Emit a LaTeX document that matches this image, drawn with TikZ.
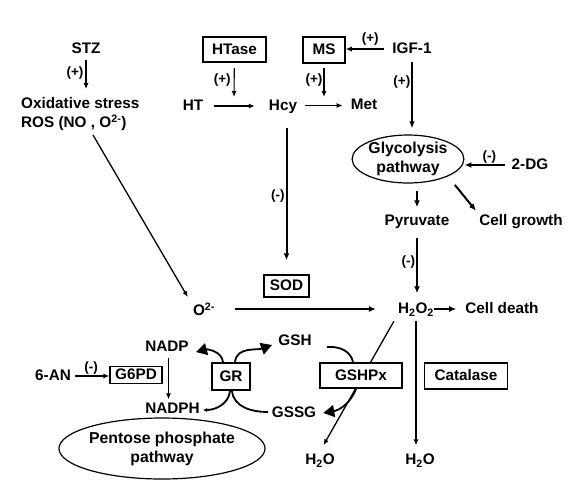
\documentclass[tikz,border=0pt]{standalone}
\usepackage{fontspec}
\setmainfont{Liberation Sans}
\usetikzlibrary{arrows.meta,calc,shapes.geometric}
\tikzset{
  txt/.style={font=\bfseries\fontsize{15.3}{19}\selectfont, inner sep=2pt, text height=11pt, text depth=2pt},
  mtxt/.style={font=\bfseries\fontsize{15.3}{19}\selectfont, inner sep=2pt, align=left},
  bx/.style={font=\bfseries\fontsize{15.3}{19}\selectfont, draw, line width=1.5pt, inner sep=0pt, text height=11pt, text depth=2pt, fill=white},
  ell/.style={ellipse, draw, line width=1.2pt, inner sep=0pt, align=center, font=\bfseries\fontsize{15.8}{19}\selectfont},
  lab/.style={font=\bfseries\fontsize{13.5}{14}\selectfont, inner sep=1pt},
  arr/.style={-{Latex[length=6pt,width=5pt]}, line width=1.1pt},
  marr/.style={-{Latex[length=7pt,width=5.5pt]}, line width=1.5pt},
  tarr/.style={-{Latex[length=7pt,width=6pt]}, line width=2pt},
  big/.style={-{Triangle[length=11pt,width=12pt]}, line width=1.8pt},
  plain/.style={line width=1.8pt},
}
\begin{document}
\begin{tikzpicture}[x=1pt,y=1pt]
\useasboundingbox (0,0) rectangle (584,-491);
% nodes
\node[txt] (stz) at (86,-49) {STZ};
\node[mtxt, anchor=north west] (ox) at (19,-95) {Oxidative stress\\ROS (NO , O\textsuperscript{2-})};
\node[bx, minimum width=63pt, minimum height=25pt] (hta) at (234.5,-49.5) {HTase};
\node[txt] (ht) at (193,-106) {HT};
\node[txt] (hcy) at (283,-105.5) {Hcy};
\node[bx, minimum width=42pt, minimum height=26pt] (ms) at (324,-50) {MS};
\node[txt] (igf) at (412,-49) {IGF-1};
\node[txt] (met) at (364,-104.5) {Met};
\node[ell, minimum width=110pt, minimum height=48pt] (gly) at (408,-159) {Glycolysis\\pathway};
\node[txt] (dg) at (530,-165) {2-DG};
\node[txt] (pyr) at (417,-221) {Pyruvate};
\node[txt] (cg) at (521,-221) {Cell growth};
\node[txt] (h2o2) at (416,-309) {H\textsubscript{2}O\textsubscript{2}};
\node[txt] (cd) at (502,-309) {Cell death};
\node[txt] (o2) at (204,-311) {O\textsuperscript{2-}};
\node[bx, minimum width=45pt, minimum height=22pt] (sod) at (286.5,-286) {SOD};
\node[txt] (nadp) at (167,-347) {NADP};
\node[txt] (nadph) at (172.5,-409) {NADPH};
\node[bx, minimum width=52pt, minimum height=17pt] (g6pd) at (136,-375) {G6PD};
\node[txt] (an) at (53,-376) {6-AN};
\node[txt] (gsh) at (295,-341) {GSH};
\node[txt] (gssg) at (294,-413) {GSSG};
\node[txt] (h2ol) at (320,-460) {H\textsubscript{2}O};
\node[txt] (h2or) at (420,-460) {H\textsubscript{2}O};
\node[ell, minimum width=175pt, minimum height=61pt] (ppp) at (162,-448.5) {Pentose phosphate\\pathway};
% free ends
\coordinate (j1) at (234,-97);
\coordinate (j2) at (324,-97);
\coordinate (na) at ($(nadp.south)+(1.5,0)$);
\coordinate (rosx) at ($(ox.north west)+(74,-40)$);
% connectors top
\draw[arr, shorten <=2pt, shorten >=6pt] (stz) -- node[lab, left, pos=.42, xshift=-1pt]{(+)} (stz |- ox.north);
\draw[arr, shorten <=5pt] (hta) -- node[lab, left, pos=.5, xshift=-2pt]{(+)} (j1);
\draw[arr, shorten <=9pt, shorten >=12pt] (ht.east) -- (ht.east -| hcy.west);
\draw[arr, shorten <=6pt] (igf.west) -- node[lab, above, pos=.45, yshift=2pt]{(+)} (igf.west -| ms.east);
\draw[arr, shorten <=4pt] (ms) -- node[lab, left, pos=.5]{(+)} (j2);
\draw[arr, shorten <=6pt, shorten >=6pt] (hcy.east) -- (hcy.east -| met.west);
\draw[marr, shorten <=4pt, shorten >=6pt] (igf) -- node[lab, left, pos=.32]{(+)} (igf |- gly.north);
\draw[tarr, shorten <=5pt] (dg.west) -- node[lab, above, pos=.45]{(-)} (gly.east |- dg.west);
\draw[tarr, shorten <=7pt, shorten >=5pt] (gly.south -| pyr) -- (pyr.north);
\draw[tarr, shorten <=11pt, shorten >=2pt] (gly.south east) -- (cg.north west);
\draw[tarr, shorten <=8pt, shorten >=7pt] (pyr.south) -- node[lab, left, pos=.46]{(-)} (pyr.south |- h2o2.north);
\draw[tarr, shorten <=-2pt, shorten >=7pt] (h2o2.east) -- (cd.west);
\draw[tarr, shorten <=18pt, shorten >=20pt] (o2.east |- h2o2.west) -- (h2o2.west);
\draw[tarr, shorten <=14pt, shorten >=14pt] (hcy.south -| sod.north) -- node[lab, left, pos=.51]{(-)} (sod.north);
\draw[arr, line width=1.3pt, shorten >=6pt] (rosx) -- (o2.north west);
\draw[arr, shorten <=2pt] (an.east) -- node[lab, above, pos=.5]{(-)} (an.east -| g6pd.west);
\draw[arr, shorten <=2pt, shorten >=1pt] (na) -- (na |- nadph.north);
% H2O2 to water
\draw[arr, line width=1.3pt, shorten <=3pt, shorten >=6pt] (h2o2.south) -- (h2o2.south |- h2or.north);
\draw[arr, line width=1.3pt, shorten <=4pt, shorten >=7pt] (h2o2.south west) -- (h2ol.north);
% enzyme boxes
\node[bx, minimum width=38pt, minimum height=27pt] (gr) at (231,-376.5) {GR};
\node[bx, minimum width=82pt, minimum height=25pt] (gpx) at (361,-375.5) {GSHPx};
\node[bx, minimum width=83pt, minimum height=26pt] (cat) at (466,-376) {Catalase};
% GR curves
\coordinate (tnadp) at (196,-352);
\coordinate (tgsh) at (272,-345);
\coordinate (tnadph) at (203,-410);
\coordinate (tgssg) at (268,-412);
\draw[big] ($(gr.north)+(-8,0)$) to[out=95, in=15] (tnadp);
\draw[big] ($(gr.north)+(4,0)$) to[out=85, in=200] (tgsh);
\draw[-{Latex[length=4pt,width=4pt]}, line width=1.8pt] ($(gr.south)+(-1,0)$) to[out=-95, in=0] (tnadph);
\draw[plain] ($(gr.south)+(1,0)$) to[out=-85, in=180] (tgssg);
% GSHPx curves
\coordinate (gpxs) at ($(gpx.south)+(-5,0)$);
\coordinate (tgs) at ($(gssg.east)+(5,0)$);
\draw[plain] ($(gsh.east)+(13,-6)$) to[out=5, in=100] ($(gpx.north)+(-8,0)$);
\draw[big] (gpxs) to[out=-110, in=10] (tgs);
\end{tikzpicture}
\end{document}
